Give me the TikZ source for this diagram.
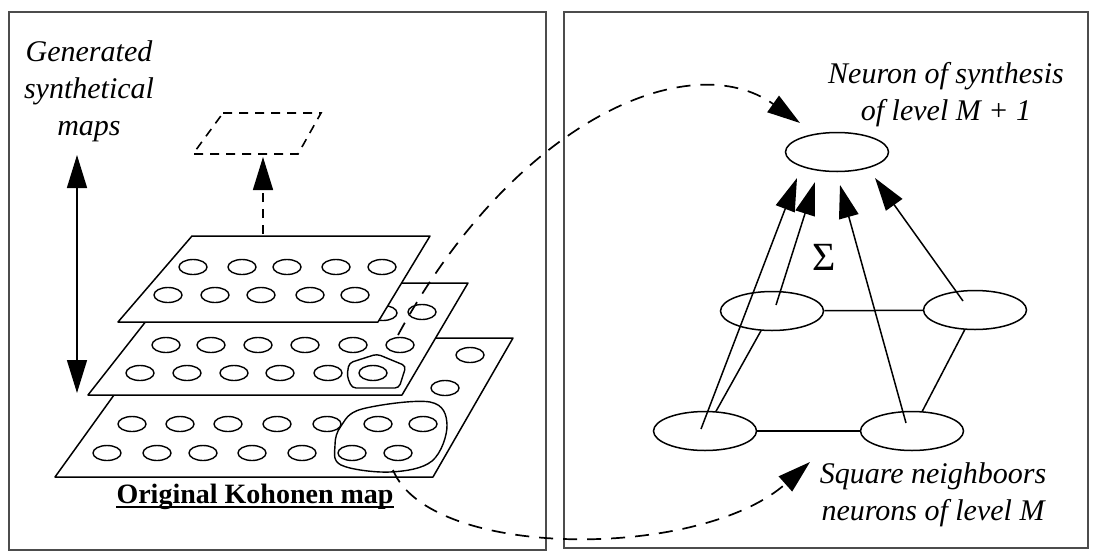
\documentclass[tikz,border=0pt]{standalone}
\usepackage{fontspec}
\setmainfont{Liberation Serif}
\usetikzlibrary{arrows.meta,shapes.geometric,calc}
\begin{document}
\begin{tikzpicture}[x=1pt,y=-1pt,
  frame/.style={draw=black!70, line width=2pt},
  layer/.style={draw, fill=white, line width=1.5pt, line join=round},
  cell/.style={line width=1.4pt},
  neuron/.style={draw, ellipse, line width=1.5pt, minimum width=103pt, minimum height=39pt, inner sep=0pt},
  lab/.style={font=\fontsize{30}{37}\selectfont\itshape, align=center, inner sep=0pt},
  head/.style={-{Triangle[length=33pt,width=20pt]}},
  bihead/.style={{Triangle[length=33pt,width=20pt]}-{Triangle[length=33pt,width=20pt]}},
  longdash/.style={line width=1.7pt, dash pattern=on 14pt off 10pt},
  shortdash/.style={line width=1.6pt, dash pattern=on 9pt off 7pt},
  conn/.style={line width=1.5pt}]
\useasboundingbox (0,0) rectangle (1094,552);
% panels
\draw[frame] (9,12) rectangle (546,550);
\draw[frame] (564,12) rectangle (1088,548);
% ---- bottom layer
\draw[layer] (155,338) -- (513,338) -- (433,477) -- (55,477) -- cycle;
\foreach \x in {132,180,228,277,327,378,423} \draw[cell] (\x,424) ellipse [x radius=14pt, y radius=7.5pt];
\foreach \x in {107,157,203,252,302,352,398} \draw[cell] (\x,453) ellipse [x radius=14pt, y radius=7.5pt];
\draw[cell] (470,355) ellipse [x radius=14pt, y radius=7.5pt];
\draw[cell] (445,388) ellipse [x radius=14pt, y radius=7.5pt];
\draw[cell] plot[smooth cycle, tension=0.6] coordinates {(341,426) (362,409) (430,402) (447,425) (432,461) (390,472) (341,465) (335,445)};
% ---- middle layer
\draw[layer] (176,283) -- (468,283) -- (402,395) -- (88,395) -- cycle;
\draw[cell] (383,313) ellipse [x radius=14pt, y radius=7.5pt];
\draw[cell] (422,312) ellipse [x radius=14pt, y radius=7.5pt];
\foreach \x in {166,211,258,305,353,400} \draw[cell] (\x,345) ellipse [x radius=14pt, y radius=7.5pt];
\foreach \x in {140,187,234,280,328,373} \draw[cell] (\x,373) ellipse [x radius=14pt, y radius=7.5pt];
\draw[cell, rounded corners=4pt] (349,363) -- (377,354) -- (406,366) -- (399,388) -- (352,388) -- (347,376) -- cycle;
% ---- top layer
\draw[layer] (192,236) -- (430,236) -- (378,322) -- (118,322) -- cycle;
\foreach \x in {193,242,287,336,382} \draw[cell] (\x,267) ellipse [x radius=14pt, y radius=7.5pt];
\foreach \x in {168,215,261,310,355} \draw[cell] (\x,295) ellipse [x radius=14pt, y radius=7.5pt];
% ---- generated map
\draw[shortdash] (223,113) -- (321,113) -- (298,154) -- (193,154) -- cycle;
\coordinate (up0) at (263,234);
\coordinate (up1) at (263,157);
\draw[shortdash, head] (up0) -- (up1);
\coordinate (dbl0) at (77,155);
\coordinate (dbl1) at (77,393);
\draw[line width=1.5pt, bihead] (dbl0) -- (dbl1);
% ---- texts left
\node[lab] (gen) at (89,91) {Generated\\synthetical\\maps};
\node[font=\fontsize{28}{34}\selectfont\bfseries, inner sep=0pt, anchor=base] (orig) at (255,503) {Original Kohonen map};
\draw[line width=1.4pt] ([yshift=-4pt]orig.base west) -- ([yshift=-4pt]orig.base east);
% ---- right panel
\node[neuron] (top) at (837,152) {};
\node[neuron] (TL) at (772,311) {};
\node[neuron] (TR) at (975,310) {};
\node[neuron] (BL) at (705,431) {};
\node[neuron] (BR) at (912,431) {};
\draw[conn] (TL) -- (TR);
\draw[conn, line width=1.9pt] (BL) -- (BR);
\draw[conn] (TL) -- (BL);
\draw[conn] (TR) -- (BR);
\coordinate (t1) at (797,178);
\coordinate (t2) at (815,182);
\coordinate (t3) at (840,185);
\coordinate (t4) at (875,178);
\draw[conn, head] ($(BL.center)+(-4,-2)$) -- (t1);
\draw[conn, head] ($(TL.center)+(4,-6)$) -- (t2);
\draw[conn, head] ($(BR.center)+(-6,-8)$) -- (t3);
\draw[conn, head] ($(TR.center)+(-12,-9)$) -- (t4);
\node[font=\fontsize{40}{44}\selectfont, inner sep=0pt] (sig) at (824,257) {Σ};
\node[lab] (neu) at (946,95) {Neuron of synthesis\\of level M + 1};
\node[lab] (sq) at (933,495) {Square neighboors\\neurons of level M};
% ---- dashed links
\coordinate (s1) at (398,335);
\coordinate (e1) at (800,123);
\draw[longdash, head] (s1) .. controls (515,120) and (690,45) .. (e1);
\coordinate (s2) at (393,470);
\coordinate (e2) at (810,462);
\draw[longdash, head] (s2) .. controls (430,560) and (700,560) .. (e2);
\end{tikzpicture}
\end{document}
